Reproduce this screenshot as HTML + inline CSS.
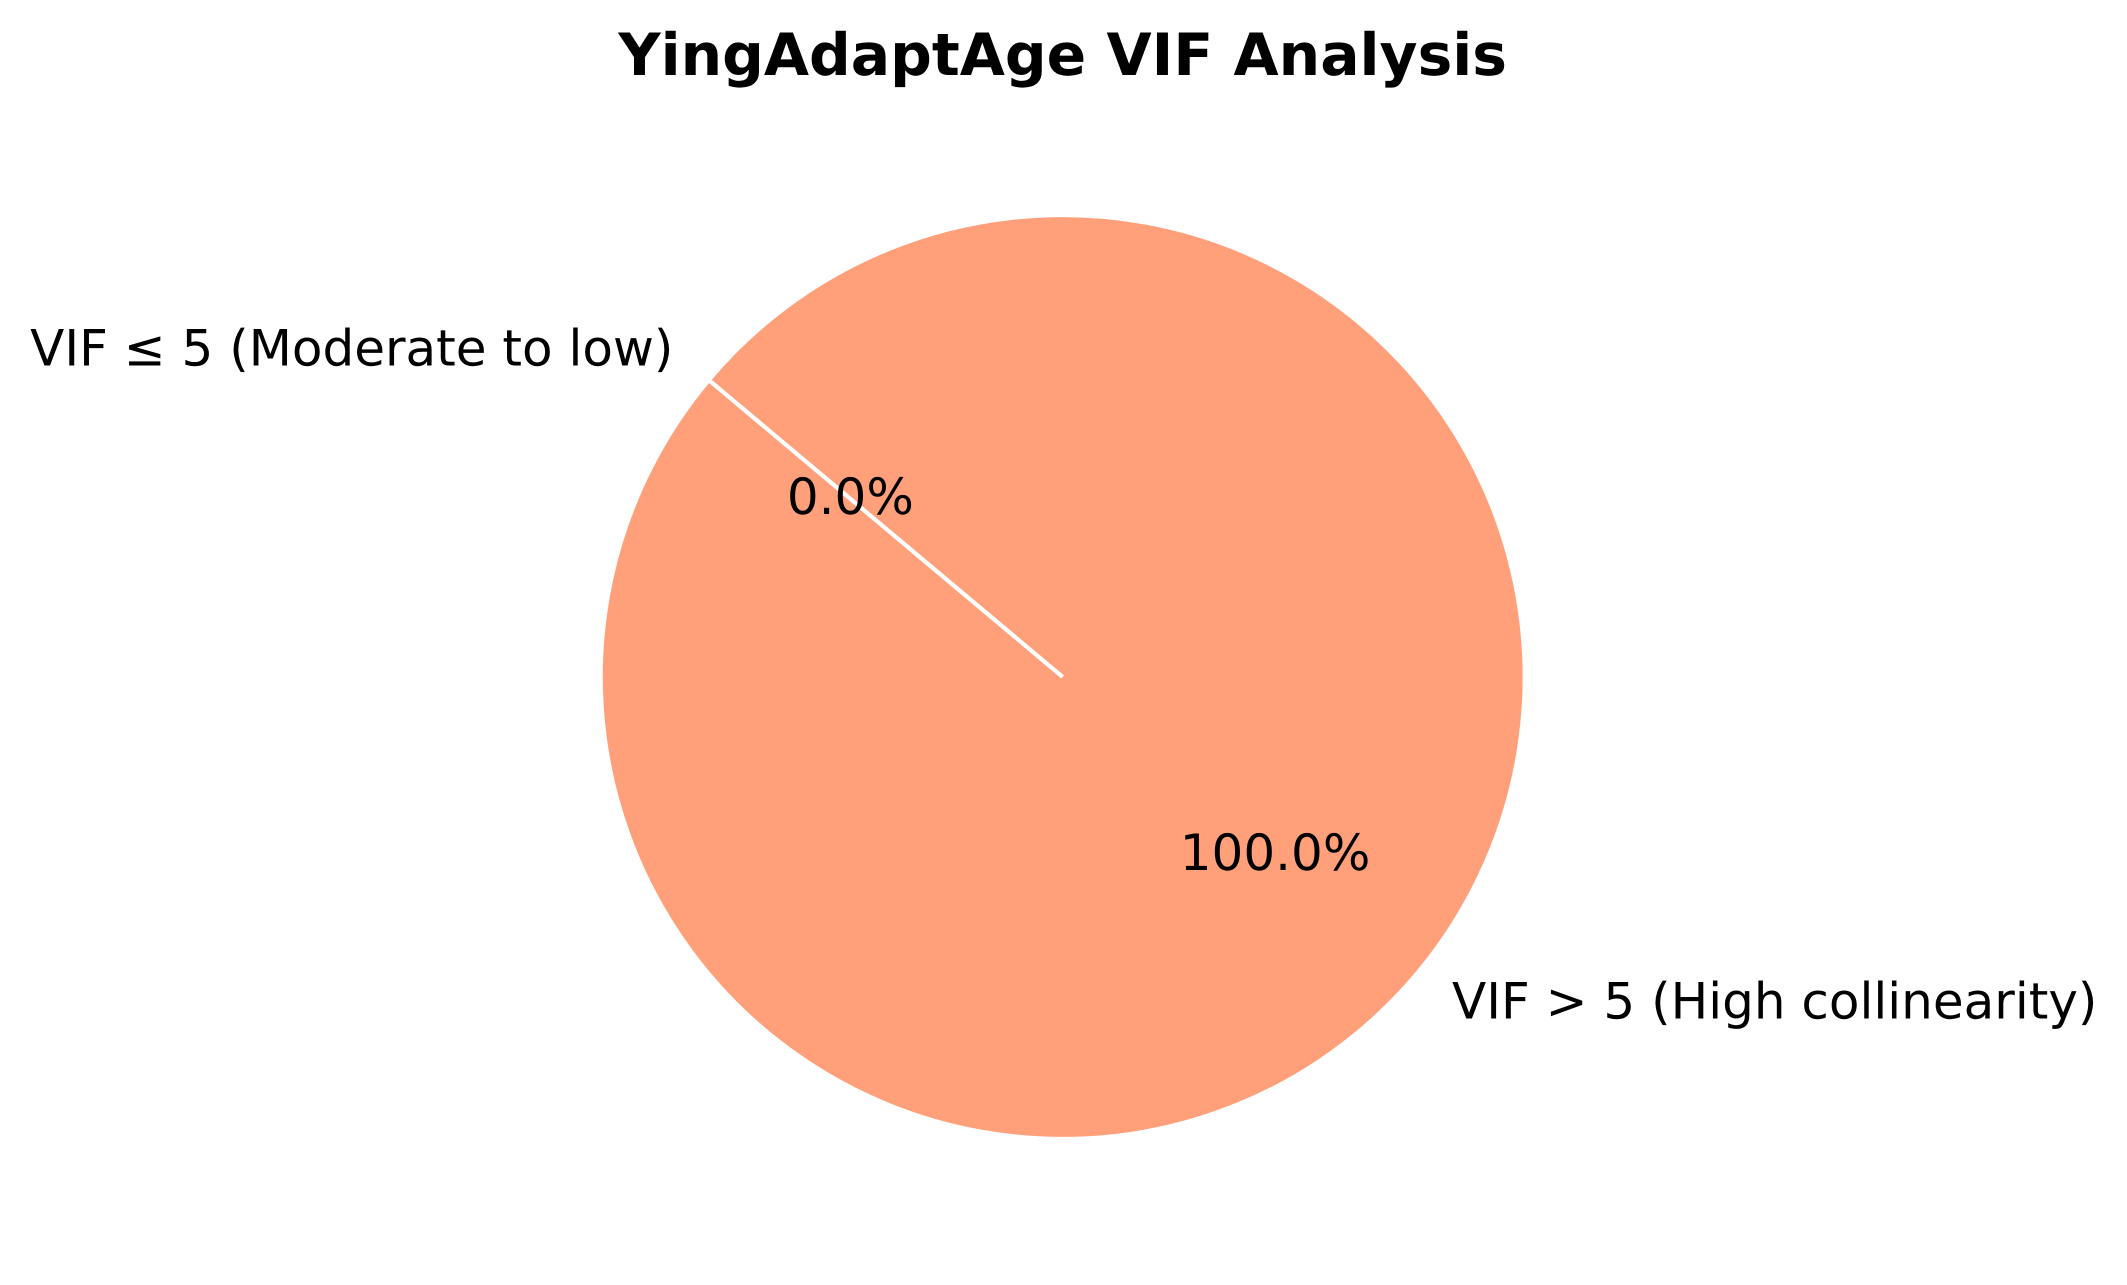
<!DOCTYPE html>
<html lang="en">
<head>
<meta charset="utf-8">
<title>YingAdaptAge VIF Analysis</title>
<style>
  html, body { margin: 0; padding: 0; background: #ffffff; }
  #chart { display: block; width: 2127px; height: 1285px; }
  text { font-family: "DejaVu Sans", "Liberation Sans", sans-serif; fill: #000000; text-rendering: geometricPrecision; }
</style>
</head>
<body>
<svg id="chart" xmlns="http://www.w3.org/2000/svg" width="2127" height="1285" viewBox="0 0 2127 1285">
  <rect x="0" y="0" width="2127" height="1285" fill="#ffffff"></rect>
  <text x="1062.7" y="75" text-anchor="middle" font-size="58.33" font-weight="700">YingAdaptAge VIF Analysis</text>
  <g id="slices"></g>
  <g id="labels"></g>
</svg>
<script>
const categories = ['VIF ≤ 5 (Moderate to low)', 'VIF > 5 (High collinearity)'];
const sliceValues = [0, 100];
const sliceColors = ['#66b3ff', '#ffa07a'];

const SVG_NS = 'http://www.w3.org/2000/svg';
const CX = 1062.7;
const CY = 677;
const RADIUS = 462;
const START_ANGLE = 140;
const LABEL_DISTANCE = 1.1;
const PCT_DISTANCE = 0.6;
const BASELINE_OFFSET = 15;
const FONT_SIZE = 50;

function px(angle, dist) {
  return CX + dist * Math.cos(angle * Math.PI / 180);
}
function py(angle, dist) {
  return CY - dist * Math.sin(angle * Math.PI / 180);
}
function wedgePath(a0, a1) {
  let d = 'M' + CX + ' ' + CY + ' L' + px(a0, RADIUS) + ' ' + py(a0, RADIUS);
  let a = a0;
  while (a < a1 - 1e-9) {
    const next = Math.min(a + 120, a1);
    d += ' A' + RADIUS + ' ' + RADIUS + ' 0 0 0 ' + px(next, RADIUS) + ' ' + py(next, RADIUS);
    a = next;
  }
  return d + ' Z';
}

const slicesGroup = document.getElementById('slices');
const labelsGroup = document.getElementById('labels');
const total = sliceValues.reduce(function (s, v) { return s + v; }, 0);
let cursor = START_ANGLE;

sliceValues.forEach(function (value, i) {
  const sweep = value / total * 360;
  const a0 = cursor;
  const a1 = cursor + sweep;
  const mid = (a0 + a1) / 2;
  cursor = a1;

  const path = document.createElementNS(SVG_NS, 'path');
  path.setAttribute('d', wedgePath(a0, a1));
  path.setAttribute('fill', sliceColors[i]);
  path.setAttribute('stroke', '#ffffff');
  path.setAttribute('stroke-width', '4.17');
  path.setAttribute('stroke-linejoin', 'miter');
  
  
  slicesGroup.appendChild(path);

  const lx = px(mid, RADIUS * LABEL_DISTANCE);
  const label = document.createElementNS(SVG_NS, 'text');
  label.setAttribute('x', lx);
  label.setAttribute('y', py(mid, RADIUS * LABEL_DISTANCE) + BASELINE_OFFSET);
  label.setAttribute('font-size', FONT_SIZE);
  label.setAttribute('text-anchor', lx < CX ? 'end' : 'start');
  
  
  label.textContent = categories[i];
  labelsGroup.appendChild(label);

  const pct = document.createElementNS(SVG_NS, 'text');
  pct.setAttribute('x', px(mid, RADIUS * PCT_DISTANCE));
  pct.setAttribute('y', py(mid, RADIUS * PCT_DISTANCE) + BASELINE_OFFSET);
  pct.setAttribute('font-size', FONT_SIZE);
  pct.setAttribute('text-anchor', 'middle');
  
  
  pct.textContent = (value / total * 100).toFixed(1) + '%';
  labelsGroup.appendChild(pct);
});
</script>
</body>
</html>
